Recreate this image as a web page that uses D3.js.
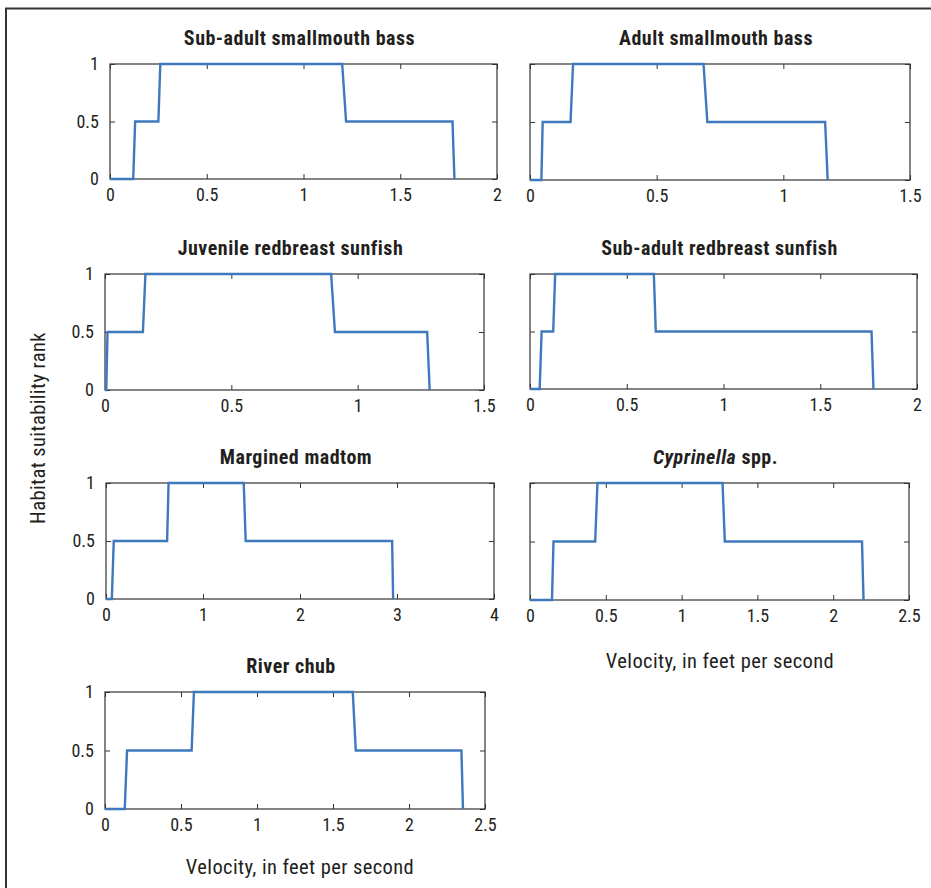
<!DOCTYPE html>
<html>
<head>
<meta charset="utf-8">
<script src="https://cdn.jsdelivr.net/npm/d3@7"></script>
<style>
  body { margin: 0; background: #fff; }
  svg text { font-family: "Roboto Condensed", "Liberation Sans Narrow", "DejaVu Sans Condensed", sans-serif; fill: #231f20; }
  .title { font-weight: bold; font-size: 20px; letter-spacing: 0.5px; }
  .tick text { font-size: 18px; }
  .axis-label { font-size: 20.5px; letter-spacing: 0.4px; }
</style>
</head>
<body>
<div id="chart"></div>
<script>
// velocity (ft/s) vs habitat suitability rank
const subAdultSmallmouth = [[0,0],[0.12,0],[0.13,0.5],[0.25,0.5],[0.26,1],[1.2,1],[1.22,0.5],[1.77,0.5],[1.78,0]];
const adultSmallmouth    = [[0,0],[0.045,0],[0.05,0.5],[0.16,0.5],[0.17,1],[0.685,1],[0.7,0.5],[1.165,0.5],[1.175,0]];
const juvRedbreast       = [[0,0],[0.005,0],[0.01,0.5],[0.15,0.5],[0.16,1],[0.895,1],[0.91,0.5],[1.275,0.5],[1.285,0]];
const subAdultRedbreast  = [[0,0],[0.05,0],[0.06,0.5],[0.12,0.5],[0.13,1],[0.64,1],[0.65,0.5],[1.765,0.5],[1.775,0]];
const marginedMadtom     = [[0,0],[0.06,0],[0.08,0.5],[0.63,0.5],[0.645,1],[1.42,1],[1.44,0.5],[2.95,0.5],[2.96,0]];
const cyprinella         = [[0,0],[0.145,0],[0.155,0.5],[0.43,0.5],[0.445,1],[1.27,1],[1.285,0.5],[2.19,0.5],[2.2,0]];
const riverChub          = [[0,0],[0.13,0],[0.145,0.5],[0.57,0.5],[0.585,1],[1.63,1],[1.65,0.5],[2.345,0.5],[2.355,0]];

const titles = ["Sub-adult smallmouth bass", "Adult smallmouth bass", "Juvenile redbreast sunfish",
  "Sub-adult redbreast sunfish", "Margined madtom", "Cyprinella spp.", "River chub"];
const series = [subAdultSmallmouth, adultSmallmouth, juvRedbreast, subAdultRedbreast, marginedMadtom, cyprinella, riverChub];
const xMax = [2, 1.5, 1.5, 2, 4, 2.5, 2.5];
const xTickStep = [0.5, 0.5, 0.5, 0.5, 1, 0.5, 0.5];
const yTicks = [0, 0.5, 1];

// panel boxes in pixels [left, right, top, bottom]
const boxes = [
  [110, 497, 64, 179], [530, 910, 64, 180],
  [105, 484, 274, 390], [530, 917, 274, 389],
  [106, 494, 483, 599], [530, 909, 483, 600],
  [105, 485, 692, 809]
];

const width = 931, height = 888;
const svg = d3.select("#chart").append("svg")
  .attr("width", width).attr("height", height);

// frame (top and left edges)
svg.append("path")
  .attr("d", `M6,${height} V8.5 H${width}`)
  .attr("fill", "none").attr("stroke", "#333").attr("stroke-width", 2);

const fmt = d => d3.format("~g")(d);

series.forEach((data, i) => {
  const [l, r, t, b] = boxes[i];
  const x = d3.scaleLinear().domain([0, xMax[i]]).range([l, r]);
  const y = d3.scaleLinear().domain([0, 1]).range([b, t]);
  const xt = d3.range(0, xMax[i] + 1e-9, xTickStep[i]);
  const g = svg.append("g");

  // inward ticks on all four sides
  g.append("g").attr("transform", `translate(0,${b})`)
    .call(d3.axisBottom(x).tickValues(xt).tickFormat(fmt).tickSizeInner(-5).tickSizeOuter(0).tickPadding(9));
  g.append("g").attr("transform", `translate(0,${t})`)
    .call(d3.axisTop(x).tickValues(xt).tickFormat("").tickSizeInner(-5).tickSizeOuter(0));
  g.append("g").attr("transform", `translate(${l},0)`)
    .call(d3.axisLeft(y).tickValues(yTicks).tickFormat(i % 2 === 0 ? fmt : "").tickSizeInner(-5).tickSizeOuter(0).tickPadding(11));
  g.append("g").attr("transform", `translate(${r},0)`)
    .call(d3.axisRight(y).tickValues(yTicks).tickFormat("").tickSizeInner(-5).tickSizeOuter(0));
  g.selectAll(".domain").remove();
  g.selectAll(".tick line").attr("stroke", "#333");
  g.selectAll(".tick text").attr("fill", "#231f20").attr("font-family", null).attr("font-size", null);

  g.append("rect")
    .attr("x", l).attr("y", t).attr("width", r - l).attr("height", b - t)
    .attr("fill", "none").attr("stroke", "#333").attr("stroke-width", 1.2);

  g.append("path")
    .datum(data)
    .attr("d", d3.line().x(d => x(d[0])).y(d => y(d[1])))
    .attr("fill", "none")
    .attr("stroke", "#3f79bd")
    .attr("stroke-width", 2.4);

  const title = g.append("text")
    .attr("class", "title")
    .attr("x", (l + r) / 2 - 4)
    .attr("y", t - 19)
    .attr("text-anchor", "middle");
  if (titles[i].startsWith("Cyprinella")) {
    title.append("tspan").attr("font-style", "italic").text("Cyprinella");
    title.append("tspan").text(" spp.");
  } else {
    title.text(titles[i]);
  }
});

svg.append("text")
  .attr("class", "axis-label")
  .attr("transform", "rotate(-90)")
  .attr("x", -428).attr("y", 45)
  .attr("text-anchor", "middle")
  .text("Habitat suitability rank");

svg.append("text")
  .attr("class", "axis-label")
  .attr("x", 720).attr("y", 668)
  .attr("text-anchor", "middle")
  .text("Velocity, in feet per second");

svg.append("text")
  .attr("class", "axis-label")
  .attr("x", 300).attr("y", 874)
  .attr("text-anchor", "middle")
  .text("Velocity, in feet per second");
</script>
</body>
</html>
